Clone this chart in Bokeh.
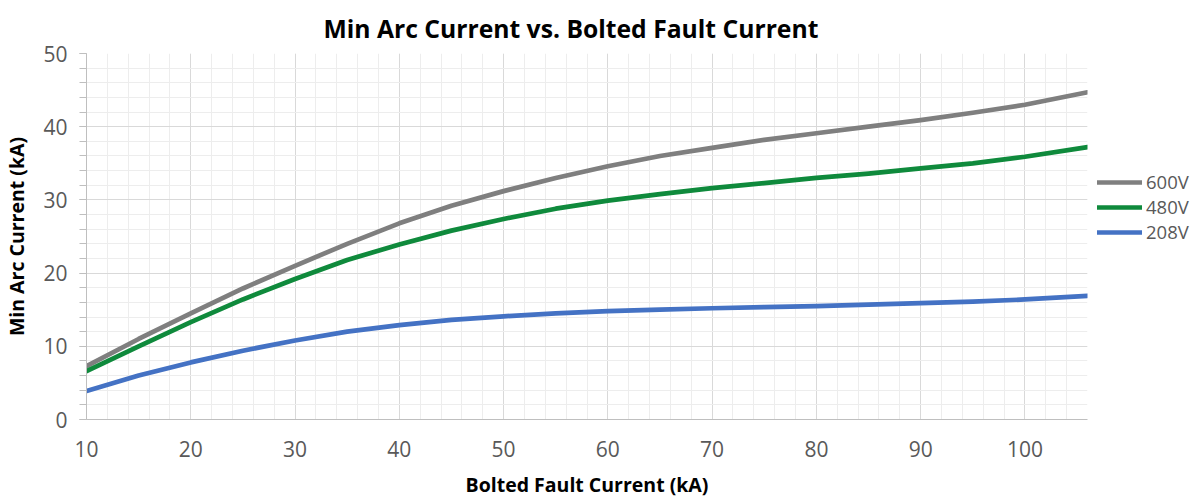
from bokeh.plotting import figure
from bokeh.models import Range1d, SingleIntervalTicker, Legend, LegendItem
from bokeh.embed import file_html
from bokeh.resources import INLINE

x_vals = [10, 15, 20, 25, 30, 35, 40, 45, 50, 55, 60, 65, 70, 75, 80, 85, 90, 95, 100, 106]
v600 = [7.3, 11.0, 14.5, 17.9, 21.0, 24.0, 26.8, 29.2, 31.2, 33.0, 34.6, 36.0, 37.1, 38.2, 39.1, 40.0, 40.9, 41.9, 43.0, 44.7]
v480 = [6.6, 10.0, 13.3, 16.4, 19.2, 21.8, 23.9, 25.8, 27.4, 28.8, 29.9, 30.8, 31.6, 32.3, 33.0, 33.6, 34.3, 35.0, 35.9, 37.2]
v208 = [3.9, 6.0, 7.8, 9.4, 10.8, 12.0, 12.9, 13.6, 14.1, 14.5, 14.8, 15.0, 15.2, 15.35, 15.5, 15.7, 15.9, 16.1, 16.4, 16.9]

series = [("600V", v600, "#7f7f7f"), ("480V", v480, "#0f8a3c"), ("208V", v208, "#4472c4")]

FONT = "Open Sans"

p = figure(frame_width=1001, frame_height=366, output_backend="svg", toolbar_location=None,
           x_range=Range1d(10, 106), y_range=Range1d(0, 50),
           min_border_left=78, min_border_right=0, min_border_top=47, min_border_bottom=60)

p.title.text = "Min Arc Current vs. Bolted Fault Current"
p.title.text_font = FONT
p.title.text_font_size = "24.7px"
p.title.text_font_style = "bold"
p.title.text_color = "#000000"
p.title.align = "left"
p.title.offset = 237
p.title.standoff = 18

p.outline_line_color = None
p.background_fill_color = "white"

p.xaxis.ticker = SingleIntervalTicker(interval=10, num_minor_ticks=5)
p.yaxis.ticker = SingleIntervalTicker(interval=10, num_minor_ticks=5)

for ax in (p.xaxis[0], p.yaxis[0]):
    ax.axis_line_color = "#bfbfbf"
    ax.major_tick_line_color = "#bfbfbf"
    ax.minor_tick_line_color = "#bfbfbf"
    ax.major_label_text_font = FONT
    ax.major_label_text_font_size = "21px"
    ax.major_label_text_color = "#595959"
    ax.axis_label_text_font = FONT
    ax.axis_label_text_font_size = "19.5px"
    ax.axis_label_text_font_style = "bold"
    ax.axis_label_text_color = "#000000"

p.xaxis.major_tick_out = 0
p.xaxis.major_tick_in = 0
p.xaxis.minor_tick_out = 0
p.xaxis.minor_tick_in = 0
p.xaxis.major_label_standoff = 21
p.xaxis.axis_label = "Bolted Fault Current (kA)"
p.xaxis.axis_label_standoff = 11

p.yaxis.major_tick_out = 7
p.yaxis.major_tick_in = 0
p.yaxis.minor_tick_out = 7
p.yaxis.minor_tick_in = 0
p.yaxis.major_label_standoff = 12
p.yaxis.axis_label = "Min Arc Current (kA)"
p.yaxis.axis_label_standoff = 10

p.xgrid.grid_line_color = "#d9d9d9"
p.ygrid.grid_line_color = "#d9d9d9"
p.xgrid.minor_grid_line_color = "#ededed"
p.ygrid.minor_grid_line_color = "#ededed"

items = []
for name, vals, color in series:
    r = p.line(x_vals, vals, line_color=color, line_width=4.7, line_cap="round", line_join="round")
    items.append(LegendItem(label=name, renderers=[r]))

legend = Legend(items=items, location=(10, 175), orientation="vertical",
                glyph_width=45, glyph_height=20, label_standoff=4, spacing=0,
                padding=0, margin=0, border_line_color=None, background_fill_alpha=0,
                label_text_font=FONT, label_text_font_size="18.5px", label_text_color="#595959")
p.add_layout(legend, "right")

open("out.html", "w").write(file_html(p, INLINE))
